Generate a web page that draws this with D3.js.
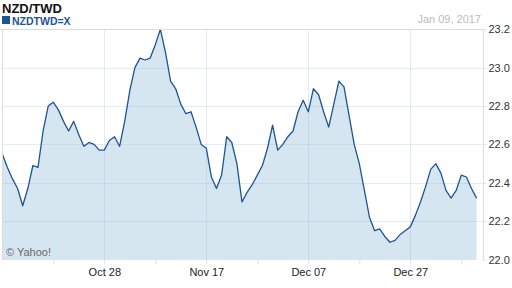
<!DOCTYPE html>
<html>
<head>
<meta charset="utf-8">
<script src="https://cdn.jsdelivr.net/npm/d3@7/dist/d3.min.js"></script>
<style>
  body { margin: 0; background: #fff; }
  svg { display: block; font-family: Arial, "Liberation Sans", sans-serif; }
</style>
</head>
<body>
<svg width="512" height="288"></svg>
<script>
// NZD/TWD daily close, Oct 08 2016 .. Jan 09 2017
var startDay = new Date(2016, 9, 8);
var endDay = new Date(2017, 0, 9);
var rates = [
  22.55, 22.48, 22.42, 22.37, 22.28, 22.37, 22.49, 22.48, 22.67, 22.80,
  22.82, 22.78, 22.72, 22.67, 22.72, 22.65, 22.59, 22.61, 22.60, 22.57,
  22.57, 22.62, 22.64, 22.59, 22.72, 22.88, 23.00, 23.05, 23.04, 23.05,
  23.12, 23.20, 23.08, 22.93, 22.89, 22.81, 22.76, 22.77, 22.69, 22.60,
  22.58, 22.43, 22.37, 22.44, 22.64, 22.61, 22.50, 22.30, 22.35, 22.39,
  22.44, 22.49, 22.58, 22.70, 22.57, 22.60, 22.64, 22.67, 22.77, 22.83,
  22.77, 22.89, 22.86, 22.77, 22.69, 22.81, 22.93, 22.90, 22.75, 22.60,
  22.50, 22.36, 22.22, 22.15, 22.16, 22.12, 22.09, 22.10, 22.13, 22.15,
  22.17, 22.23, 22.30, 22.38, 22.47, 22.50, 22.45, 22.36, 22.32, 22.36,
  22.44, 22.43, 22.37, 22.32
];
var days = d3.timeDay.range(startDay, d3.timeDay.offset(endDay, 1));
var series = days.map(function(d, i) { return { date: d, value: rates[i] }; });

var labelTicks = [new Date(2016, 9, 28), new Date(2016, 10, 17), new Date(2016, 11, 7), new Date(2016, 11, 27)];
var minorTicks = [new Date(2016, 9, 18), new Date(2016, 10, 7), new Date(2016, 10, 27), new Date(2016, 11, 17), new Date(2017, 0, 6)];
var yTicks = [22.0, 22.2, 22.4, 22.6, 22.8, 23.0, 23.2];

var svg = d3.select("svg");
var pLeft = 2.3, pRight = 483, pTop = 29.3, pBottom = 259.5;

var x = d3.scaleTime().domain([startDay, endDay]).range([2.3, 476.6]);
var y = d3.scaleLinear().domain([22, 23.2]).range([pBottom, pTop]);

// filled area + line
var area = d3.area()
  .x(function(d) { return x(d.date); })
  .y0(pBottom + 0.5)
  .y1(function(d) { return y(d.value); });
var line = d3.line()
  .x(function(d) { return x(d.date); })
  .y(function(d) { return y(d.value); });

svg.append("path").datum(series).attr("d", area).attr("fill", "#d6e6f1");

// grid (drawn over the fill, translucent)
var grid = svg.append("g").attr("stroke", "rgba(150,175,210,0.25)").attr("stroke-width", 1);
grid.selectAll("line.h").data(yTicks.slice(1)).enter().append("line")
  .attr("x1", pLeft).attr("x2", pRight)
  .attr("y1", function(d) { return Math.round(y(d)) + 0.5; })
  .attr("y2", function(d) { return Math.round(y(d)) + 0.5; });
grid.selectAll("line.v").data(labelTicks).enter().append("line")
  .attr("y1", pTop).attr("y2", pBottom + 1)
  .attr("x1", function(d) { return Math.round(x(d)) + 0.5; })
  .attr("x2", function(d) { return Math.round(x(d)) + 0.5; });

svg.append("path").datum(series).attr("d", line)
  .attr("fill", "none").attr("stroke", "#1c5591").attr("stroke-width", 1.3)
  .attr("stroke-linejoin", "round");

// frame
var frame = svg.append("g").attr("stroke", "#dcdcdc").attr("stroke-width", 1);
frame.append("line").attr("x1", 0).attr("x2", pRight).attr("y1", 29.5).attr("y2", 29.5);
frame.append("line").attr("x1", 2.5).attr("x2", 2.5).attr("y1", 29.5).attr("y2", pBottom + 1);
frame.append("line").attr("x1", pRight + 0.5).attr("x2", pRight + 0.5).attr("y1", 29.5).attr("y2", pBottom + 1);

// right axis
var yAxis = d3.axisRight(y).tickValues(yTicks).tickSize(3).tickPadding(2)
  .tickFormat(d3.format(".1f"));
var ya = svg.append("g").attr("transform", "translate(" + (pRight + 0.5) + ",0)").call(yAxis);
ya.select(".domain").remove();
ya.selectAll(".tick line").attr("stroke", "#dcdcdc");
ya.selectAll(".tick text").attr("fill", "#333").attr("font-size", 11)
  .attr("font-family", "Arial, 'Liberation Sans', sans-serif");

// bottom axis
var xAxis = d3.axisBottom(x).tickValues(labelTicks.concat(minorTicks)).tickSize(4).tickPadding(4)
  .tickFormat(function(d) {
    return labelTicks.some(function(t) { return +t === +d; }) ? d3.timeFormat("%b %d")(d) : "";
  });
var xa = svg.append("g").attr("transform", "translate(0," + (pBottom + 0.5) + ")").call(xAxis);
xa.select(".domain").remove();
xa.selectAll(".tick line").attr("stroke", "#e2e2e2");
xa.selectAll(".tick text").attr("fill", "#222").attr("font-size", 11)
  .attr("font-family", "Arial, 'Liberation Sans', sans-serif");

// header
svg.append("text").attr("x", 2).attr("y", 13).attr("font-size", 13).attr("font-weight", "bold")
  .attr("fill", "#111").text("NZD/TWD");
svg.append("rect").attr("x", 2).attr("y", 16).attr("width", 8).attr("height", 8).attr("fill", "#1c5591");
svg.append("text").attr("x", 12).attr("y", 24.5).attr("font-size", 10.5).attr("font-weight", "bold")
  .attr("fill", "#1c5591").text("NZDTWD=X");
svg.append("text").attr("x", 481).attr("y", 23).attr("text-anchor", "end").attr("font-size", 11)
  .attr("fill", "#bbbbbb").text("Jan 09, 2017");
svg.append("text").attr("x", 6).attr("y", 256).attr("font-size", 11)
  .attr("fill", "#666").text("\u00a9 Yahoo!");
</script>
</body>
</html>
